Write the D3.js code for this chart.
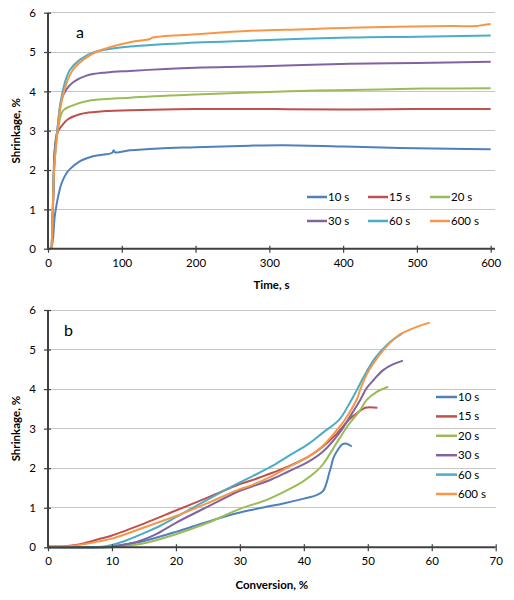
<!DOCTYPE html>
<html><head><meta charset="utf-8">
<script src="https://cdn.jsdelivr.net/npm/d3@7"></script>
<style>body{margin:0;background:#fff}svg{display:block}text{font-family:Lato,"Liberation Sans",sans-serif;fill:#000}</style>
</head><body><svg id="c" width="514" height="600"></svg>
<script>
const seriesNames = ["10 s","15 s","20 s","30 s","60 s","600 s"];
const colors = ["#4F81BD","#C0504D","#9BBB59","#8064A2","#4BACC6","#F79646"];
const timeTicks = [0,100,200,300,400,500,600];
const convTicks = [0,10,20,30,40,50,60,70];
const shrinkTicks = [0,1,2,3,4,5,6];

// Panel a: [time s, shrinkage %]
const time10 = [[5,0],[7,0.3],[9,0.8],[11,1.05],[14,1.35],[18.5,1.67],[25,1.92],[30,2.03],[43,2.22],[61,2.35],[87,2.44],[89,2.5],[91,2.45],[111,2.5],[150,2.55],[200,2.58],[274,2.62],[320,2.63],[400,2.6],[477,2.56],[545,2.54],[600,2.53]];
const time15 = [[5,0],[7,1.2],[9,2.4],[11,2.8],[14,3.0],[18.5,3.12],[27,3.29],[43,3.42],[79,3.5],[111,3.52],[200,3.55],[300,3.55],[400,3.54],[500,3.55],[600,3.55]];
const time20 = [[5,0],[7,1.2],[9,2.4],[11,2.85],[13.5,3.05],[20,3.5],[30,3.62],[52,3.75],[111,3.84],[200,3.92],[274,3.97],[364,4.02],[450,4.05],[508,4.07],[600,4.08]];
const time30 = [[5,0],[7,1.3],[9,2.5],[12.6,3.0],[18.5,3.8],[25,4.05],[34,4.23],[52,4.4],[79,4.48],[111,4.52],[200,4.6],[274,4.63],[409,4.7],[500,4.72],[600,4.75]];
const time60 = [[5,0],[6.5,1.0],[8.1,2.0],[12.6,3.0],[16,3.6],[19.9,4.0],[25,4.35],[29.8,4.55],[43,4.8],[63,5.0],[111,5.14],[200,5.24],[274,5.29],[409,5.37],[500,5.39],[600,5.42]];
const time600 = [[5,0],[6.5,1.0],[8.3,2.0],[13,3.0],[17,3.6],[21.7,4.0],[32,4.5],[47.5,4.8],[65,5.0],[111,5.25],[134,5.31],[138,5.33],[142,5.37],[200,5.45],[274,5.54],[350,5.58],[409,5.62],[545,5.66],[580,5.66],[590,5.69],[600,5.71]];

// Panel b: [conversion %, shrinkage %]
const conv10 = [[0,0],[9,0],[10,0.02],[12,0.07],[15,0.16],[20,0.39],[25,0.65],[30,0.88],[32,0.95],[34,1.02],[36.8,1.11],[40,1.23],[42,1.32],[43,1.42],[43.5,1.6],[44,1.9],[44.3,2.06],[44.6,2.25],[45.3,2.46],[46,2.6],[46.7,2.62],[47.5,2.55]];
const conv15 = [[0,0.02],[2,0.02],[4,0.05],[6,0.12],[8,0.21],[10,0.3],[15,0.6],[20,0.93],[25.3,1.28],[30,1.6],[32,1.7],[35,1.88],[37.5,2.04],[40.8,2.3],[43,2.55],[45,2.85],[47.2,3.25],[48.3,3.39],[49.6,3.53],[51.5,3.53]];
const conv20 = [[0,0],[10,0],[12,0.03],[15,0.1],[20,0.33],[25,0.62],[30,0.97],[34.2,1.2],[37.5,1.45],[40,1.68],[42,1.93],[43,2.1],[45.6,2.76],[47,3.1],[48.8,3.47],[49.8,3.72],[51.4,3.93],[53.2,4.06]];
const conv30 = [[0,0],[8,0],[10,0.02],[13,0.1],[15,0.2],[17,0.34],[20,0.62],[25,1.03],[30,1.43],[32,1.54],[35,1.72],[37.5,1.91],[40.8,2.17],[43,2.42],[45.6,2.9],[47.7,3.43],[48.8,3.72],[49.8,4.02],[50.9,4.23],[52.4,4.48],[54,4.63],[55.5,4.72]];
const conv60 = [[0,0],[5,0],[8,0.01],[10,0.06],[12,0.16],[15,0.36],[17,0.5],[20,0.76],[25.3,1.24],[30,1.64],[32,1.8],[35,2.05],[37.5,2.3],[40.8,2.62],[43,2.9],[45.5,3.22],[47,3.6],[48.3,3.98],[49.5,4.35],[51,4.75],[52.4,5.02],[53.4,5.18],[55.5,5.42]];
const conv600 = [[0,0.02],[2,0.02],[4,0.04],[6,0.09],[8,0.15],[10,0.22],[15,0.5],[20,0.79],[25,1.12],[30,1.47],[32,1.58],[35,1.8],[37.5,2.02],[40.8,2.3],[43,2.57],[45.6,3.05],[46.4,3.22],[48.3,3.75],[48.8,3.98],[49.8,4.36],[51,4.68],[52.4,4.98],[53.4,5.16],[55,5.38],[57.6,5.57],[59.7,5.68]];

const timeSeries = [time10,time15,time20,time30,time60,time600];
const convSeries = [conv10,conv15,conv20,conv30,conv60,conv600];

const svg = d3.select("#c");

function panel(o){
  const g = svg.append("g");
  const x = d3.scaleLinear().domain(o.xDomain).range([48, o.xRight]);
  const y = d3.scaleLinear().domain([0,6]).range([o.y0, o.y6]);
  g.append("g").selectAll("line").data(shrinkTicks.slice(1)).join("line")
    .attr("x1",48).attr("x2",o.gridRight).attr("y1",d=>y(d)).attr("y2",d=>y(d))
    .attr("stroke","#c6c6c6").attr("stroke-width",1).attr("shape-rendering","crispEdges");
  const line = d3.line().x(d=>x(d[0])).y(d=>y(d[1])).curve(d3.curveCatmullRom.alpha(0.5));
  g.append("g").selectAll("path").data(o.series).join("path")
    .attr("d",line).attr("fill","none").attr("stroke",(d,i)=>colors[i]).attr("stroke-width",2).attr("stroke-linejoin","round");
  const xa = g.append("g").attr("transform",`translate(0,${o.y0})`)
    .call(d3.axisBottom(x).tickValues(o.xTicks).tickFormat(d3.format("d")).tickSize(4).tickSizeOuter(0).tickPadding(6));
  const ya = g.append("g").attr("transform","translate(48,0)")
    .call(d3.axisLeft(y).tickValues(shrinkTicks).tickFormat(d3.format("d")).tickSize(4).tickSizeOuter(0).tickPadding(8));
  [xa,ya].forEach(a=>{
    a.select(".domain").attr("stroke","#404040").attr("stroke-width",2);
    a.selectAll(".tick line").attr("stroke","#404040").attr("stroke-width",1.2);
    a.selectAll(".tick text").attr("font-family","Lato, 'Liberation Sans', sans-serif").attr("font-size",11.5).attr("fill","#000");
  });
  xa.select(".domain").attr("d",`M48,0H${o.gridRight}`);
  ya.select(".domain").attr("d",`M0,${o.y0+1}V${o.y6}`);
  xa.selectAll(".tick line").attr("y1",-3);
  ya.selectAll(".tick line").attr("x1",3);
  g.append("text").attr("x",(48+o.gridRight)/2).attr("y",o.xTitleY).attr("text-anchor","middle")
    .attr("font-size",11.5).attr("font-weight","bold").text(o.xTitle);
  g.append("text").attr("transform",`translate(20,${(o.y0+o.y6)/2}) rotate(-90)`).attr("text-anchor","middle")
    .attr("font-size",11.5).attr("font-weight","bold").text("Shrinkage, %");
  g.append("text").attr("x",o.tagX).attr("y",o.tagY).attr("font-size",16).text(o.tag);
  const lg = g.append("g").selectAll("g").data(seriesNames).join("g")
    .attr("transform",(d,i)=>`translate(${o.legX(i)},${o.legY(i)})`);
  lg.append("line").attr("x1",0).attr("x2",o.legLen).attr("y1",0).attr("y2",0)
    .attr("stroke",(d,i)=>colors[i]).attr("stroke-width",2.5);
  lg.append("text").attr("x",o.legLen+1).attr("y",4).attr("font-size",11.5).text(d=>d);
}

panel({
  xDomain:[0,600], xRight:490.7, gridRight:495, y0:248.7, y6:12.7,
  series:timeSeries, xTicks:timeTicks, xTitle:"Time, s", xTitleY:289,
  tag:"a", tagX:76, tagY:38,
  legLen:20, legX:i=>[307,368,430][i%3], legY:i=>i<3?197:221
});
panel({
  xDomain:[0,70], xRight:495.7, gridRight:495.7, y0:547.3, y6:310,
  series:convSeries, xTicks:convTicks, xTitle:"Conversion, %", xTitleY:589,
  tag:"b", tagX:64, tagY:336,
  legLen:21, legX:i=>436, legY:i=>397+i*19.4
});
</script></body></html>
